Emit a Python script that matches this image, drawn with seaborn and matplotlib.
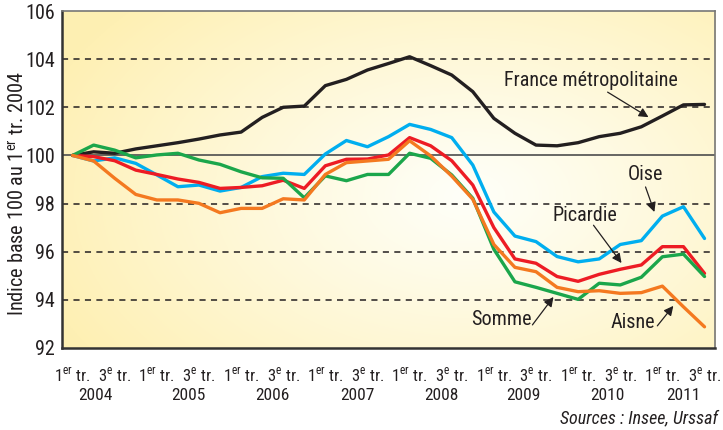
import numpy as np
import pandas as pd
import matplotlib.pyplot as plt
import seaborn as sns

# indices trimestriels, base 100 au 1er trimestre 2004 (2004T1 -> 2011T3)
france = [100.0, 100.15, 100.09, 100.27, 100.4, 100.53, 100.68, 100.85, 100.97, 101.58,
          102.0, 102.05, 102.9, 103.16, 103.55, 103.82, 104.1, 103.73, 103.34, 102.65,
          101.54, 100.92, 100.43, 100.4, 100.53, 100.78, 100.92, 101.19, 101.64, 102.1, 102.12]
oise = [100.0, 99.77, 99.9, 99.67, 99.19, 98.7, 98.77, 98.52, 98.67, 99.12,
        99.26, 99.21, 100.06, 100.62, 100.36, 100.78, 101.29, 101.08, 100.74, 99.6,
        97.65, 96.65, 96.42, 95.8, 95.58, 95.7, 96.3, 96.46, 97.48, 97.87, 96.55]
picardie = [100.0, 99.95, 99.78, 99.39, 99.21, 99.02, 98.88, 98.63, 98.67, 98.74,
            98.97, 98.63, 99.57, 99.84, 99.85, 100.02, 100.74, 100.4, 99.78, 98.77,
            97.0, 95.7, 95.52, 94.97, 94.77, 95.06, 95.27, 95.45, 96.21, 96.21, 95.1]
somme = [100.0, 100.43, 100.22, 99.9, 100.02, 100.09, 99.81, 99.63, 99.32, 99.07,
         99.05, 98.24, 99.15, 98.95, 99.21, 99.21, 100.09, 99.88, 99.19, 98.22,
         96.1, 94.75, 94.52, 94.27, 94.02, 94.69, 94.62, 94.94, 95.79, 95.9, 94.97]
aisne = [100.0, 99.77, 99.05, 98.38, 98.15, 98.15, 98.01, 97.62, 97.8, 97.8,
         98.2, 98.15, 99.21, 99.7, 99.77, 99.84, 100.61, 99.98, 99.14, 98.18,
         96.3, 95.35, 95.17, 94.52, 94.34, 94.38, 94.27, 94.3, 94.57, 93.71, 92.88]

years = ["2004", "2005", "2006", "2007", "2008", "2009", "2010", "2011"]
year_pos = [1.1, 5.5, 9.5, 13.5, 17.5, 21.4, 25.4, 29.0]

series = {"France métropolitaine": france, "Oise": oise, "Picardie": picardie,
          "Somme": somme, "Aisne": aisne}
colors = {"France métropolitaine": "#231f20", "Oise": "#00aeef", "Picardie": "#ed1c24",
          "Somme": "#1ba64b", "Aisne": "#f47920"}

df = pd.DataFrame(series)
df["t"] = np.arange(len(france))
long = df.melt(id_vars="t", var_name="serie", value_name="indice")

sns.set_style("white")
plt.rcParams["font.family"] = ["Roboto Condensed", "Archivo Narrow", "DejaVu Sans"]
plt.rcParams["mathtext.fontset"] = "custom"
plt.rcParams["mathtext.rm"] = "Roboto Condensed"

fig = plt.figure(figsize=(7.23, 4.3), dpi=100)
ax = fig.add_axes([0.0858, 0.1907, 0.9032, 0.7837])

# fond dégradé jaune
gx, gy = np.meshgrid(np.linspace(0, 1, 300), np.linspace(0, 1, 200))
d = np.sqrt(((gx - 0.62) / 0.7) ** 2 + ((gy - 0.45) / 0.85) ** 2)
t = np.clip(d, 0, 1) ** 1.1
white = np.array([1.0, 1.0, 0.975])
yellow = np.array([0.996, 0.94, 0.70])
img = white[None, None, :] * (1 - t[..., None]) + yellow[None, None, :] * t[..., None]
ax.imshow(img, extent=[-0.5, 30.5, 92, 106], origin="lower", aspect="auto", zorder=0)

for v in [94, 96, 98, 102, 104]:
    ax.axhline(v, color="#231f20", lw=1.1, ls=(0, (4, 3.5)), zorder=1)
ax.axhline(100, color="#4d4d4d", lw=1.2, zorder=1)

sns.lineplot(data=long, x="t", y="indice", hue="serie", palette=colors,
             hue_order=list(series), linewidth=2.4, legend=False, ax=ax, zorder=3)

ax.set_xlim(-0.5, 30.5)
ax.set_ylim(92, 106)
ax.set_yticks(range(92, 107, 2))
ax.tick_params(axis="y", labelsize=14.5, length=4, width=1.2, color="#333333",
               labelcolor="#231f20", pad=1)

qlabels = []
qpos = list(range(0, 31, 2))
for i in qpos:
    qlabels.append(r"1$^{\rm er}$ tr." if i % 4 == 0 else r"3$^{\rm e}$ tr.")
ax.set_xticks(qpos)
ax.set_xticklabels(qlabels)
ax.set_xticks(np.arange(-0.5, 31, 1), minor=True)
ax.tick_params(axis="x", which="major", length=0, labelsize=12, pad=13,
               labelcolor="#231f20")
ax.tick_params(axis="x", which="minor", length=6, width=1.2, color="#333333",
               direction="out")
ax.set_xlabel("")
ax.set_ylabel(r"Indice base 100 au 1$^{\rm er}$ tr. 2004", fontsize=14.6,
              color="#231f20", va="center")
ax.yaxis.set_label_coords(-0.068, 0.457)

for y, p in zip(years, year_pos):
    ax.text(p, -0.14, y, transform=ax.get_xaxis_transform(), ha="center",
            va="center", fontsize=12.5, color="#231f20")

for side in ["left", "bottom"]:
    ax.spines[side].set_color("#333333")
    ax.spines[side].set_linewidth(1.8)
for side in ["top", "right"]:
    ax.spines[side].set_color("#777777")
    ax.spines[side].set_linewidth(1.2)

arrow = dict(arrowstyle="-|>", color="#231f20", lw=0.9, mutation_scale=14,
             shrinkA=0, shrinkB=0)
ax.text(24.6, 103.12, "France métropolitaine", ha="center", va="center",
        fontsize=14.5, color="#231f20")
ax.annotate("", xy=(27.34, 101.59), xytext=(25.4, 102.63), arrowprops=arrow)
ax.text(27.2, 99.19, "Oise", ha="center", va="center", fontsize=14.5, color="#231f20")
ax.annotate("", xy=(27.62, 97.65), xytext=(27.2, 98.69), arrowprops=arrow)
ax.text(24.3, 97.52, "Picardie", ha="center", va="center", fontsize=14.5, color="#231f20")
ax.annotate("", xy=(26.06, 95.53), xytext=(24.73, 97.1), arrowprops=arrow)
ax.text(20.36, 93.17, "Somme", ha="center", va="center", fontsize=14.5, color="#231f20")
ax.annotate("", xy=(22.83, 94.12), xytext=(21.83, 92.96), arrowprops=arrow)
ax.text(26.58, 93.08, "Aisne", ha="center", va="center", fontsize=14.5, color="#231f20")
ax.annotate("", xy=(28.52, 93.75), xytext=(27.76, 92.92), arrowprops=arrow)

fig.text(0.993, 0.026, "Sources : Insee, Urssaf", ha="right", va="center",
         fontsize=13, style="italic", color="#231f20")

fig.savefig("out.png", dpi=100)
